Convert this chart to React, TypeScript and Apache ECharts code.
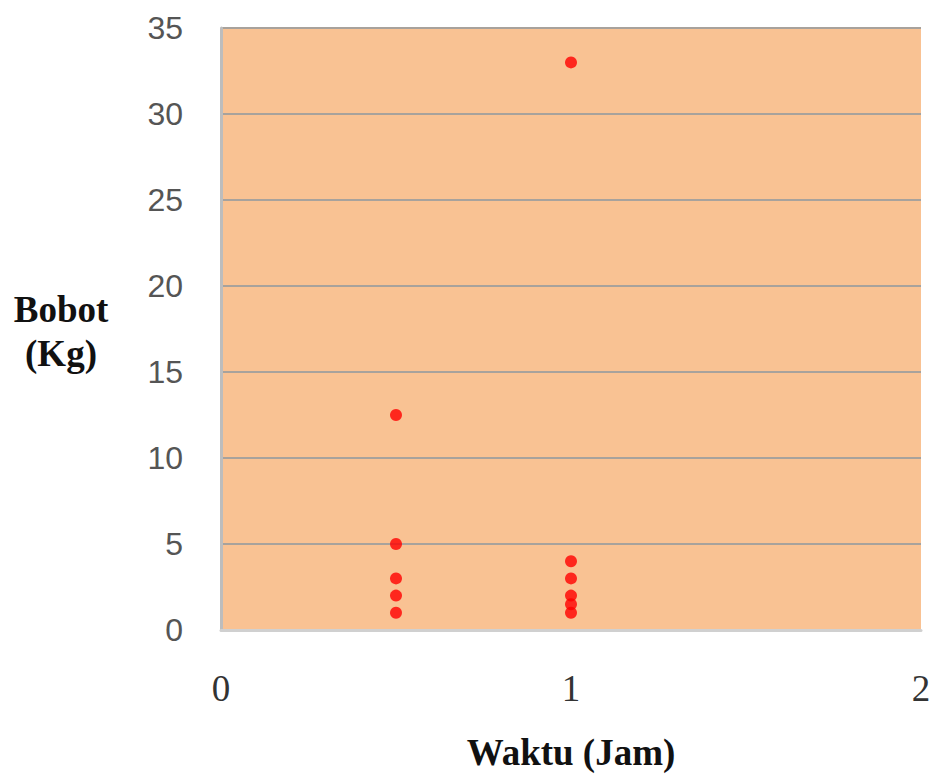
import React, { useEffect, useRef } from "react";
import * as echarts from "echarts";

const waktuA: number[] = [0.5, 0.5, 0.5, 0.5, 0.5];
const bobotA: number[] = [12.5, 5, 3, 2, 1];
const waktuB: number[] = [1, 1, 1, 1, 1, 1];
const bobotB: number[] = [33, 4, 3, 2, 1.5, 1];
const xTicks: number[] = [0, 1, 2];
const yTicks: number[] = [0, 5, 10, 15, 20, 25, 30, 35];

export default function App() {
  const ref = useRef<HTMLDivElement>(null);
  useEffect(() => {
    if (!ref.current) return;
    const chart = echarts.init(ref.current, null, { renderer: "svg" });
    const data = [
      ...waktuA.map((x, i) => [x, bobotA[i]]),
      ...waktuB.map((x, i) => [x, bobotB[i]]),
    ];
    const serifBold = {
      fontFamily: "Liberation Serif",
      fontWeight: "bold",
      fontSize: 37,
      fill: "#111",
      align: "center",
      verticalAlign: "middle",
    };
    chart.setOption({
      animation: false,
      backgroundColor: "#ffffff",
      grid: {
        left: 221,
        right: 12,
        top: 28,
        bottom: 146,
        outerBoundsMode: "none",
        containLabel: false,
        show: true,
        backgroundColor: "#F9C293",
        borderWidth: 0,
      },
      xAxis: {
        type: "value",
        min: xTicks[0],
        max: xTicks[xTicks.length - 1],
        interval: 1,
        axisLine: { show: true, lineStyle: { color: "#D0D0D0", width: 3 } },
        axisTick: { show: false },
        splitLine: { show: false },
        axisLabel: {
          margin: 40,
          fontFamily: "Liberation Serif",
          fontSize: 37,
          color: "#333",
        },
        name: "Waktu (Jam)",
        nameLocation: "middle",
        nameGap: 104,
        nameTextStyle: {
          fontFamily: "Liberation Serif",
          fontWeight: "bold",
          fontSize: 37,
          color: "#111",
        },
      },
      yAxis: {
        type: "value",
        min: yTicks[0],
        max: yTicks[yTicks.length - 1],
        interval: 5,
        axisLine: { show: true, lineStyle: { color: "#BDBDBD", width: 3 } },
        axisTick: { show: false },
        splitLine: { show: true, lineStyle: { color: "#A8A29C", width: 2 } },
        axisLabel: {
          margin: 38,
          fontFamily: "Liberation Sans",
          fontSize: 32,
          color: "#555",
        },
      },
      graphic: [
        {
          type: "text",
          x: 61,
          y: 309,
          style: { ...serifBold, text: "Bobot" },
        },
        {
          type: "text",
          x: 61,
          y: 353,
          style: { ...serifBold, text: "(Kg)" },
        },
      ],
      series: [
        {
          type: "scatter",
          data,
          symbol: "circle",
          symbolSize: 12,
          itemStyle: { color: "#FF0000" },
        },
      ],
    });
    return () => chart.dispose();
  }, []);
  return (
    <div
      ref={ref}
      style={{ position: "fixed", left: 0, top: 0, width: 933, height: 776 }}
    />
  );
}
